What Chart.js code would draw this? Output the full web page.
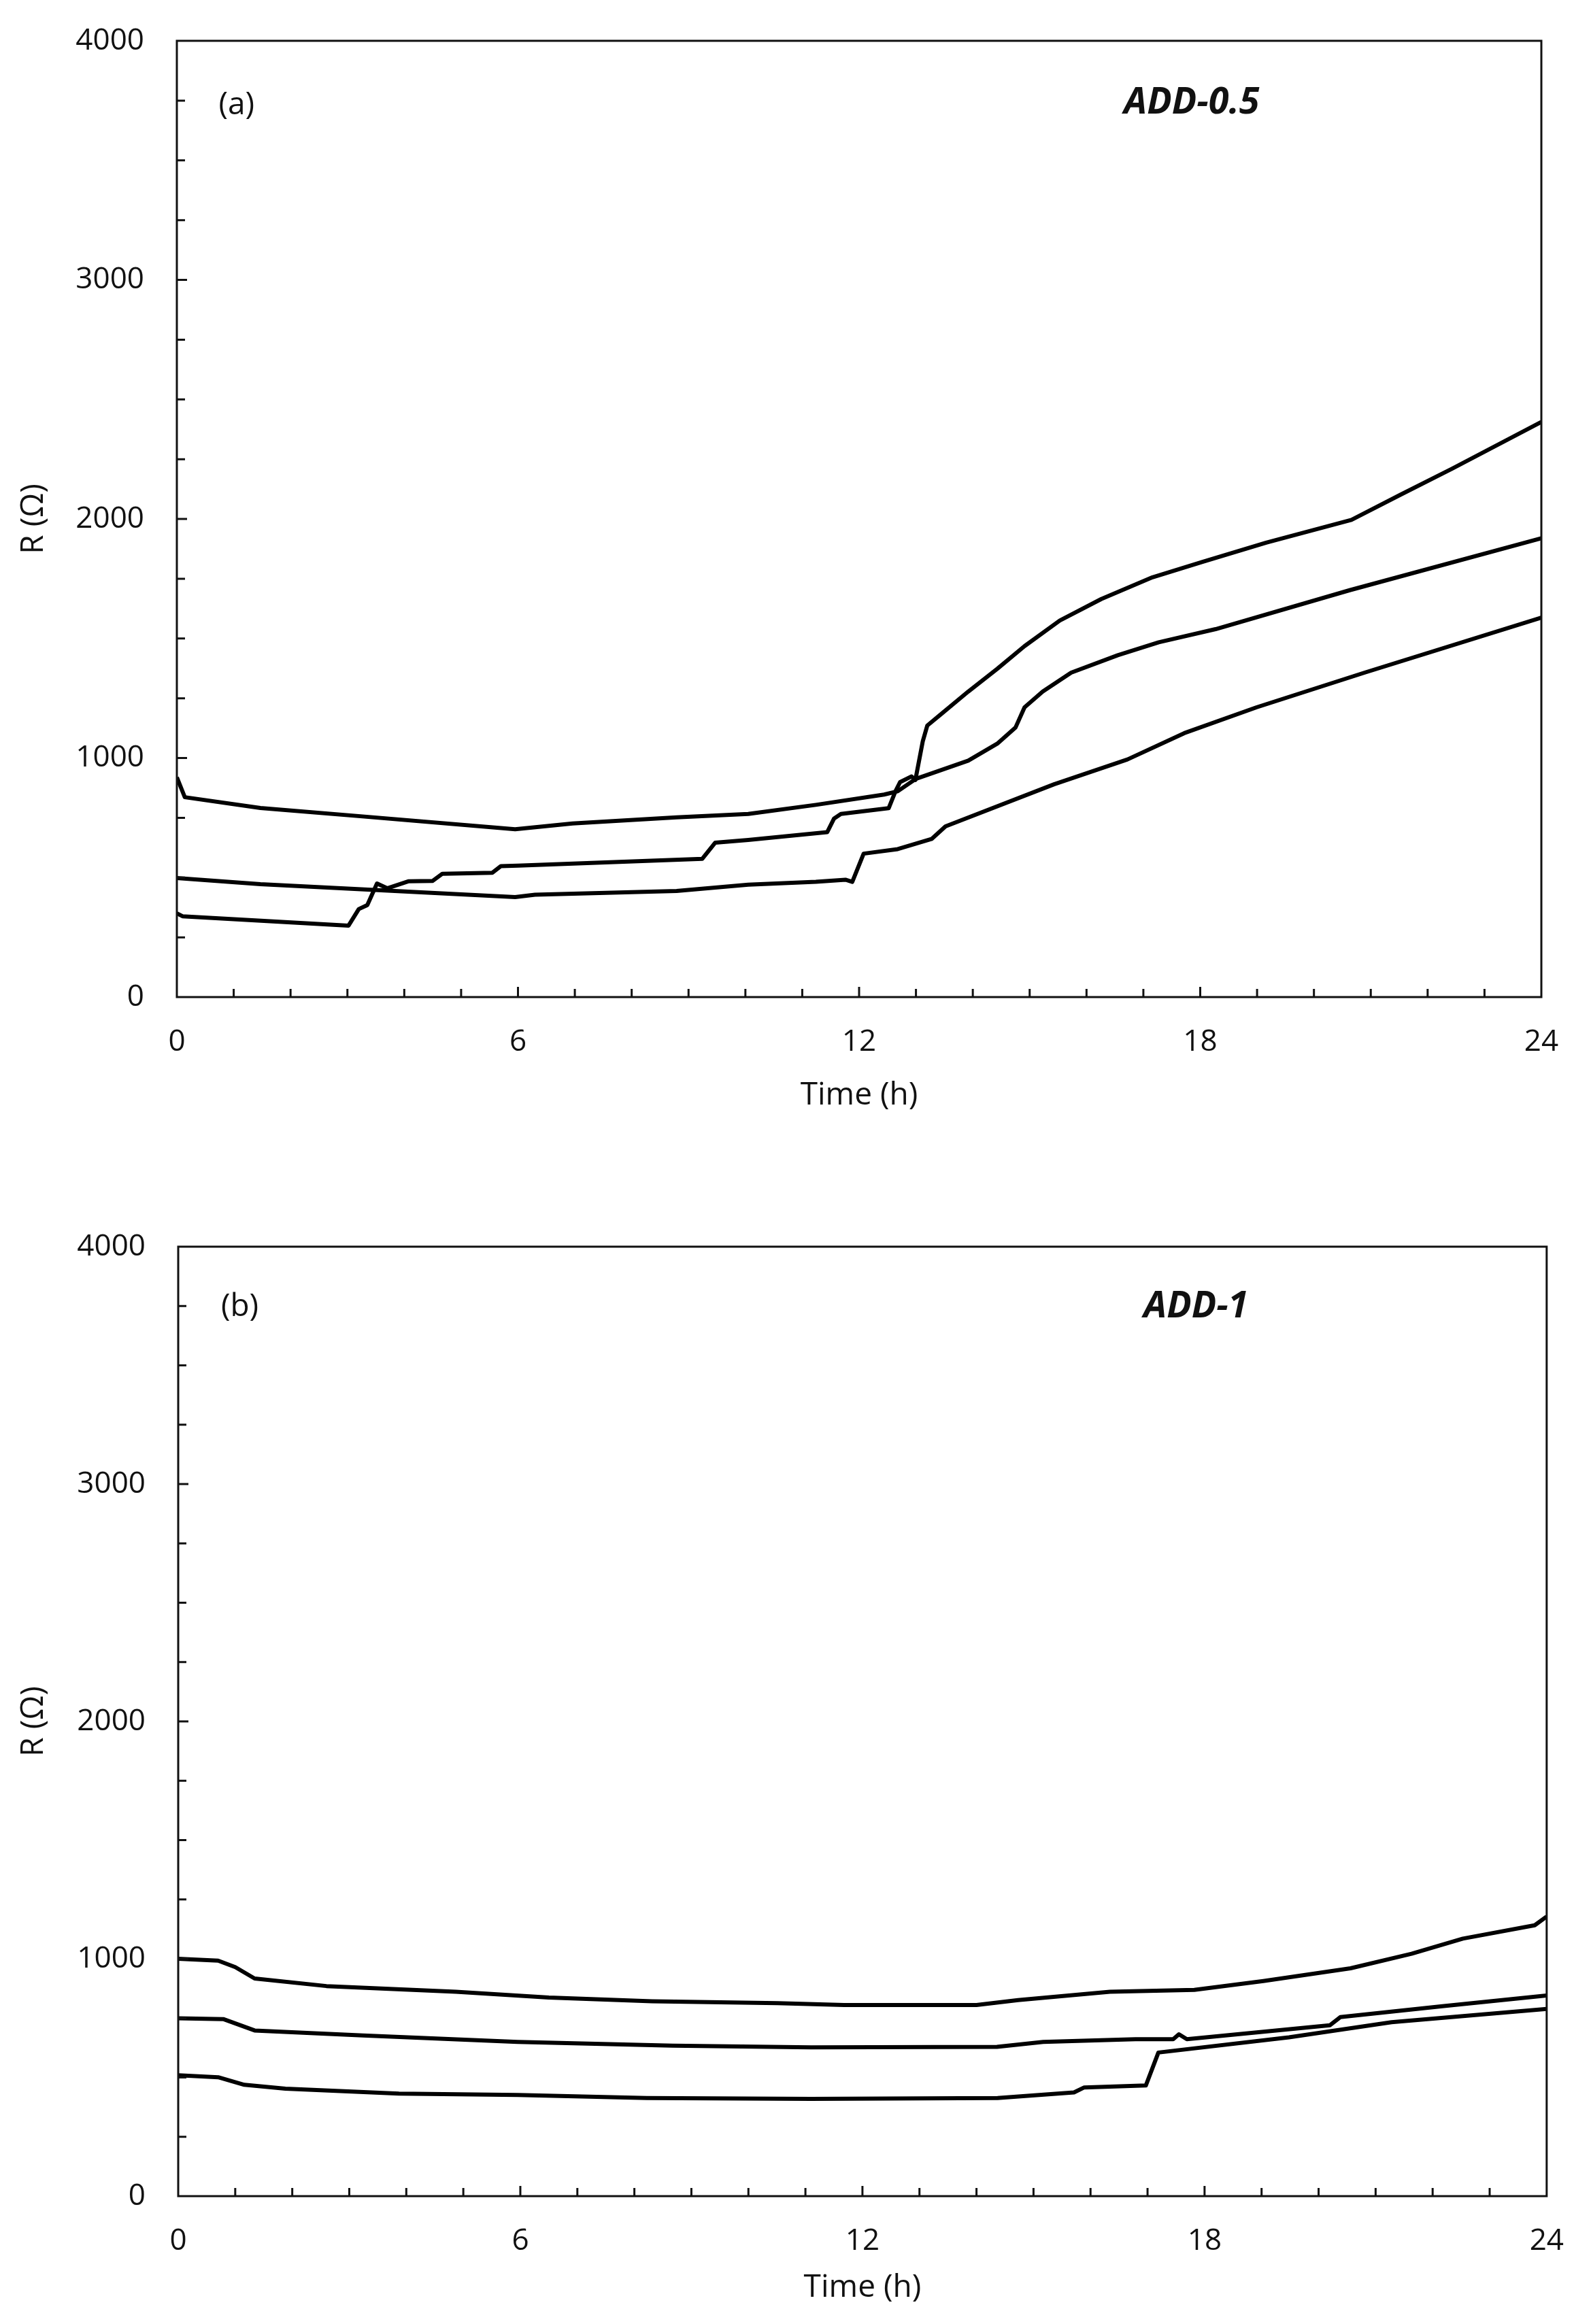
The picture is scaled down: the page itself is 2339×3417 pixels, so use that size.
<!DOCTYPE html>
<html>
<head>
<title>R vs time - ADD-0.5 / ADD-1</title>
<script src="https://cdn.jsdelivr.net/npm/chart.js"></script>
<style>
    body { margin: 0; background: #fff; }
    canvas { position: absolute; left: 0; }
</style>
</head>
<body>

<canvas id="chartA" width="2339" height="1708" style="top:0px"></canvas>
<canvas id="chartB" width="2339" height="1709" style="top:1708px"></canvas>

<script>

/* DATA - panel (a) ADD-0.5 */
const a1Time = [0, 0.14, 1.47, 3.3, 5.95, 6.96, 8.79, 10.05, 11.24, 12.44, 12.68, 13.0, 13.92, 14.43, 14.75, 14.91, 15.23, 15.73, 16.55, 17.27, 18.27, 20.63, 24];
const a1R    = [919, 836, 791, 755, 702, 726, 752, 766, 804, 847, 861, 913, 989, 1060, 1127, 1212, 1278, 1357, 1430, 1484, 1539, 1702, 1919];

const a2Time = [0, 1.47, 3.3, 5.95, 6.3, 8.79, 10.05, 11.24, 11.76, 11.88, 12.08, 12.68, 13.28, 13.52, 15.43, 16.72, 17.72, 18.99, 20.89, 24];
const a2R    = [498, 472, 450, 418, 428, 444, 470, 482, 491, 482, 600, 619, 662, 714, 890, 994, 1104, 1212, 1357, 1587];

const a3Time = [0, 0.1, 3.02, 3.2, 3.35, 3.52, 3.7, 4.07, 4.5, 4.67, 5.55, 5.7, 6.0, 9.24, 9.47, 10.05, 11.44, 11.56, 11.68, 12.52, 12.64, 12.72, 12.92, 12.99, 13.12, 13.2, 13.44, 13.92, 14.43, 14.91, 15.53, 16.26, 17.16, 18.03, 19.16, 20.66, 21.52, 22.43, 24];
const a3R    = [350, 338, 299, 368, 385, 475, 455, 484, 486, 516, 520, 548, 550, 578, 646, 657, 690, 747, 766, 790, 861, 899, 923, 908, 1070, 1136, 1183, 1278, 1373, 1468, 1575, 1665, 1756, 1820, 1901, 1996, 2101, 2210, 2406];

/* DATA - panel (b) ADD-1 */
const b1Time = [0, 0.7, 1.0, 1.34, 2.6, 4.87, 6.5, 8.31, 10.51, 11.68, 14.0, 14.73, 16.34, 17.82, 19.03, 20.56, 21.63, 22.53, 23.79, 24];
const b1R    = [1000, 992, 965, 917, 885, 861, 837, 821, 813, 805, 805, 826, 861, 869, 906, 960, 1021, 1085, 1141, 1178];

const b2Time = [0, 0.79, 1.34, 3.24, 5.95, 8.67, 11.1, 14.36, 15.17, 16.79, 17.45, 17.55, 17.69, 20.2, 20.38, 22.17, 24];
const b2R    = [749, 746, 698, 677, 650, 634, 627, 629, 650, 661, 661, 682, 661, 720, 754, 800, 845];

const b3Time = [0, 0.7, 1.16, 1.88, 3.87, 5.95, 8.22, 11.1, 14.37, 15.71, 15.89, 16.97, 17.19, 19.48, 21.28, 24];
const b3R    = [509, 501, 469, 453, 432, 426, 413, 410, 413, 437, 458, 466, 605, 669, 733, 789];

const xTicks = [0, 6, 12, 18, 24];
const yTicks = [0, 1000, 2000, 3000, 4000];

Chart.defaults.font.family = "'Open Sans', 'Noto Sans', sans-serif";
Chart.defaults.color = "#111";

/* FRAME, INWARD TICKS, PANEL LABELS */
const frameTicks = {
    id: "frameTicks",
    afterDraw(chart, args, opts) {
        const { ctx, chartArea: ca, scales: { x, y } } = chart;
        ctx.save();
        ctx.strokeStyle = "#111";
        ctx.lineWidth = 3;
        ctx.strokeRect(ca.left, ca.top, ca.right - ca.left, ca.bottom - ca.top);

        ctx.beginPath();
        for (let h = 1; h < 24; h++) {
            const px = x.getPixelForValue(h);
            const len = h % 6 === 0 ? 15 : 12;
            ctx.moveTo(px, ca.bottom);
            ctx.lineTo(px, ca.bottom - len);
        }
        for (let r = 250; r < 4000; r += 250) {
            const py = y.getPixelForValue(r);
            const len = r % 1000 === 0 ? 15 : 12;
            ctx.moveTo(ca.left, py);
            ctx.lineTo(ca.left + len, py);
        }
        ctx.stroke();

        ctx.fillStyle = "#111";
        ctx.textAlign = "center";
        ctx.textBaseline = "middle";
        ctx.font = "46px 'Open Sans'";
        ctx.fillText(opts.tag, x.getPixelForValue(opts.tagAt[0]), y.getPixelForValue(opts.tagAt[1]));
        ctx.font = "italic bold 54px 'Open Sans'";
        ctx.fillText(opts.name, x.getPixelForValue(opts.nameAt[0]), y.getPixelForValue(opts.nameAt[1]));
        ctx.restore();
    }
};

function toPoints(t, r) {
    return t.map((v, i) => ({ x: v, y: r[i] }));
}

function makeChart(id, series, box, titlePad, labels) {
    const canvas = document.getElementById(id);
    const W = canvas.width, H = canvas.height;

    return new Chart(canvas, {
        type: "line",
        data: {
            datasets: series.map(s => ({
                data: toPoints(s[0], s[1]),
                borderColor: "#000",
                borderWidth: 6,
                pointRadius: 0,
                tension: 0,
                borderJoinStyle: "round",
                fill: false
            }))
        },
        options: {
            responsive: false,
            devicePixelRatio: 1,
            animation: false,
            layout: { padding: { left: 0, top: box.top, right: W - box.right, bottom: 0 } },
            plugins: {
                legend: { display: false },
                tooltip: { enabled: false },
                frameTicks: labels
            },
            scales: {
                x: {
                    type: "linear",
                    min: 0, max: 24,
                    afterBuildTicks: s => { s.ticks = xTicks.map(v => ({ value: v })); },
                    grid: { display: false, drawTicks: false },
                    border: { display: false },
                    ticks: { font: { size: 44 }, color: "#111", padding: 40, maxRotation: 0,
                             callback: v => String(v) },
                    title: { display: true, text: "Time (h)", font: { size: 46 }, color: "#111",
                             padding: { top: 0, bottom: titlePad } },
                    afterFit: s => { s.height = H - box.bottom; }
                },
                y: {
                    min: 0, max: 4000,
                    afterBuildTicks: s => { s.ticks = yTicks.map(v => ({ value: v })); },
                    grid: { display: false, drawTicks: false },
                    border: { display: false },
                    ticks: { font: { size: 44, lineHeight: 0.5 }, color: "#111", padding: 48,
                             callback: v => String(v) },
                    title: { display: true, text: "R (\u03A9)", font: { size: 46 }, color: "#111",
                             padding: { top: 22, bottom: 0 } },
                    afterFit: s => { s.width = box.left; }
                }
            }
        },
        plugins: [frameTicks]
    });
}

makeChart("chartA",
    [[a1Time, a1R], [a2Time, a2R], [a3Time, a3R]],
    { left: 260, right: 2266, top: 60, bottom: 1466 },
    70,
    { tag: "(a)", tagAt: [1.05, 3730], name: "ADD-0.5", nameAt: [17.85, 3738] });

makeChart("chartB",
    [[b1Time, b1R], [b2Time, b2R], [b3Time, b3R]],
    { left: 262, right: 2289, top: 125, bottom: 1521 },
    26,
    { tag: "(b)", tagAt: [1.08, 3745], name: "ADD-1", nameAt: [17.85, 3745] });

</script>
</body>
</html>
